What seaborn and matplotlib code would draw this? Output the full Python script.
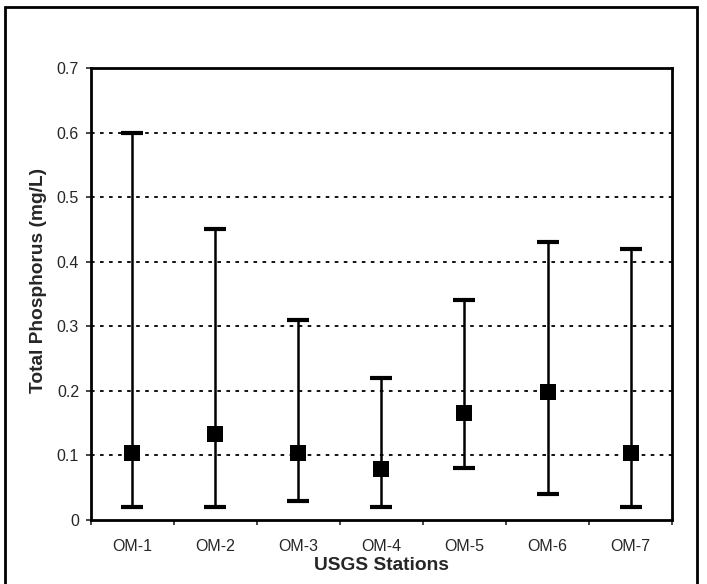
import matplotlib
matplotlib.use("Agg")
import matplotlib.pyplot as plt
import seaborn as sns
import pandas as pd
import numpy as np
from matplotlib.patches import Rectangle

stations = ["OM-1", "OM-2", "OM-3", "OM-4", "OM-5", "OM-6", "OM-7"]
means = [0.104, 0.133, 0.103, 0.079, 0.166, 0.198, 0.103]
mins = [0.02, 0.02, 0.03, 0.02, 0.08, 0.04, 0.02]
maxs = [0.60, 0.45, 0.31, 0.22, 0.34, 0.43, 0.42]
yticks = [0, 0.1, 0.2, 0.3, 0.4, 0.5, 0.6, 0.7]
ytick_labels = ["0", "0.1", "0.2", "0.3", "0.4", "0.5", "0.6", "0.7"]

df = pd.DataFrame({"station": stations, "mean": means, "min": mins, "max": maxs})
df["pos"] = np.arange(len(stations))

sns.set_style("white")
plt.rcParams["font.family"] = ["Liberation Sans", "DejaVu Sans"]

fig = plt.figure(figsize=(7.07, 5.84), dpi=100)
ax = fig.add_axes([0.1287, 0.1096, 0.8218, 0.774])

for y in yticks[1:-1]:
    ax.axhline(y, color="black", lw=1.3, linestyle=(0, (2, 3)), zorder=1)

ax.errorbar(df["pos"], df["mean"],
            yerr=[df["mean"] - df["min"], df["max"] - df["mean"]],
            fmt="none", ecolor="black", elinewidth=1.8, capsize=8, capthick=3.0, zorder=2)

sns.scatterplot(data=df, x="pos", y="mean", marker="s", s=135, color="black",
                edgecolor="black", linewidth=0, ax=ax, zorder=3)

ax.set_xlim(-0.5, len(stations) - 0.5)
ax.set_ylim(0, 0.7)
ax.set_yticks(yticks)
ax.set_yticklabels(ytick_labels, fontsize=11.5)
ax.set_xticks(df["pos"])
ax.set_xticklabels(stations, fontsize=11.5)
ax.set_xticks(np.arange(-0.5, len(stations)), minor=True)
ax.tick_params(axis="x", which="major", length=0, pad=14)
ax.tick_params(axis="x", which="minor", length=3.6, width=1.2, direction="out", bottom=True)
ax.tick_params(axis="y", which="major", length=3.6, width=1.2, direction="out", left=True, pad=5)

for s in ax.spines.values():
    s.set_color("black")
    s.set_linewidth(2.0)

ax.set_xlabel("USGS Stations", fontsize=13.8, fontweight="bold", labelpad=1.5)
ax.set_ylabel("Total Phosphorus (mg/L)", fontsize=13.8, fontweight="bold")
ax.yaxis.set_label_coords(-0.0757, 0.529)

fig.patches.append(Rectangle((4.5 / 707, -0.05), 692.5 / 707, 1.05 - 6.5 / 584,
                             transform=fig.transFigure, fill=False,
                             edgecolor="black", linewidth=2.0, clip_on=False))

fig.savefig("out.png", dpi=100)
